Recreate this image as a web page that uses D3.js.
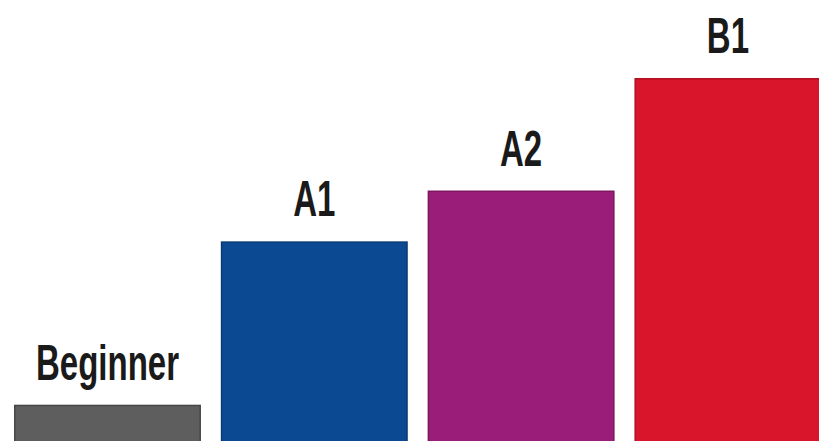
<!DOCTYPE html>
<html>
<head>
<meta charset="utf-8">
<script src="https://cdn.jsdelivr.net/npm/d3@7"></script>
<style>
  html, body { margin: 0; padding: 0; background: #ffffff; overflow: hidden; }
  svg { display: block; }
</style>
</head>
<body>
<svg id="chart" width="819" height="441"></svg>
<script>
// Data
const levels = ["Beginner", "A1", "A2", "B1"];
const values = [10, 55, 69, 100];
const fills = ["#5e5e5e", "#0b4a92", "#9a1d7a", "#d8152a"];
const strokes = ["#474747", "#083a75", "#7c1662", "#b01020"];

const W = 819, H = 441;
const svg = d3.select("#chart");

const x = d3.scaleBand()
  .domain(levels)
  .range([14, 821.4])
  .paddingInner(0.096)
  .paddingOuter(0);

const y = d3.scaleLinear()
  .domain([0, 100])
  .range([441, 78]);

const data = levels.map((l, i) => ({ level: l, value: values[i], fill: fills[i], stroke: strokes[i] }));

svg.selectAll("rect.bar")
  .data(data)
  .enter().append("rect")
  .attr("class", "bar")
  .attr("x", d => x(d.level) + 0.75)
  .attr("y", d => y(d.value) + 0.75)
  .attr("width", x.bandwidth() - 1.5)
  .attr("height", d => y(0) - y(d.value) + 10)
  .attr("fill", d => d.fill)
  .attr("stroke", d => d.stroke)
  .attr("stroke-width", 1.5);

svg.selectAll("text.lbl")
  .data(data)
  .enter().append("text")
  .attr("class", "lbl")
  .attr("transform", d => `translate(${x(d.level) + x.bandwidth() / 2},${y(d.value) - 25}) scale(0.66,1)`)
  .attr("text-anchor", "middle")
  .attr("font-family", "'Liberation Sans Narrow', 'Arial Narrow', sans-serif")
  .attr("font-weight", 700)
  .attr("font-size", 50)
  .attr("fill", "#1a1a1a")
  .text(d => d.level);
</script>
</body>
</html>
